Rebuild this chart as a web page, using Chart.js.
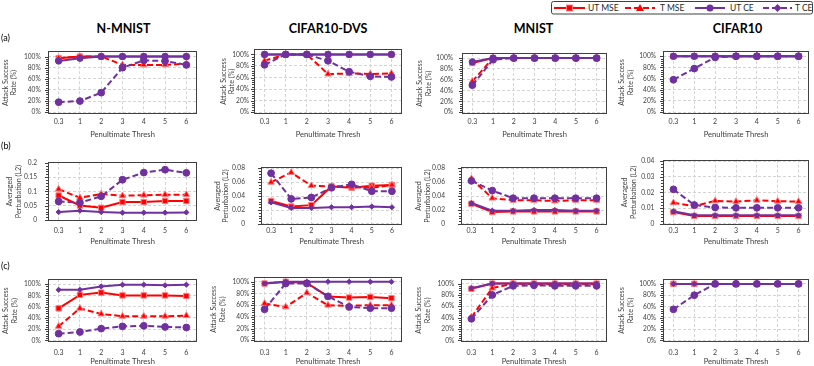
<!DOCTYPE html>
<html><head><meta charset="utf-8">
<script src="https://cdn.jsdelivr.net/npm/chart.js@4.4.1/dist/chart.umd.min.js"></script>
<style>
html,body{margin:0;padding:0;background:#fff;}
body{width:814px;height:366px;position:relative;overflow:hidden;font-family:Lato,'Open Sans',sans-serif;}
canvas{position:absolute;}
.title{position:absolute;font-weight:bold;font-size:12.5px;line-height:14px;color:#000;white-space:nowrap;transform:translateX(-50%);}
.rowlab{position:absolute;font-size:9px;line-height:10px;color:#000;}
#legend{position:absolute;left:551px;top:1px;}
</style></head><body>
<svg id="legend" width="263" height="14" xmlns="http://www.w3.org/2000/svg">
  <rect x="0.5" y="0.5" width="261" height="12.5" rx="2" ry="2" fill="#fff" stroke="#404040" stroke-width="1"/>
  <line x1="3" y1="7" x2="34" y2="7" stroke="#FF0000" stroke-width="2"/>
  <rect x="15.5" y="4" width="6" height="6" fill="#FF0000" stroke="#FF7C80" stroke-width="1"/>
  <text x="37" y="10" font-size="8.5" font-family="Lato" fill="#262626">UT MSE</text>
  <line x1="74" y1="7" x2="104" y2="7" stroke="#FF0000" stroke-width="2" stroke-dasharray="6,3"/>
  <polygon points="89,3 93,10 85,10" fill="#FF0000"/>
  <text x="109" y="10" font-size="8.5" font-family="Lato" fill="#262626">T MSE</text>
  <line x1="144" y1="7" x2="174" y2="7" stroke="#7030A0" stroke-width="2"/>
  <circle cx="159" cy="7" r="3.5" fill="#7030A0"/>
  <text x="179" y="10" font-size="8.5" font-family="Lato" fill="#262626">UT CE</text>
  <line x1="212" y1="7" x2="241" y2="7" stroke="#7030A0" stroke-width="2" stroke-dasharray="6,3"/>
  <polygon points="226.5,3 230.5,7 226.5,11 222.5,7" fill="#7030A0"/>
  <text x="244" y="10" font-size="8.5" font-family="Lato" fill="#262626">T CE</text>
</svg>
<script>
// ---------- data ----------
const categories = ['0.3','1','2','3','4','5','6'];
const datasetNames = ['N-MNIST','CIFAR10-DVS','MNIST','CIFAR10'];
const seriesNames = ['UT MSE','T MSE','UT CE','T CE'];
const rowLabels = ['(a)','(b)','(c)'];
const xAxisTitle = 'Penultimate Thresh';
const yTitleRate = ['Attack Success','Rate (%)'];
const yTitlePert = ['Averaged','Perturbation (L2)'];
const pctTicks = [0,20,40,60,80,100];
const pertTicksNMNIST = [0,0.05,0.1,0.15,0.2];
const pertTicksDVS = [0,0.02,0.04,0.06,0.08];
const pertTicksMNIST = [0,0.02,0.04,0.06,0.08];
const pertTicksCIFAR = [0,0.01,0.02,0.03,0.04];

// (a) attack success rate (%)
const a_NMNIST_UTMSE = [97,100,100,100,100,100,100];
const a_NMNIST_TMSE  = [97,100,100,85,85,85,87];
const a_NMNIST_UTCE  = [92,97,100,100,100,100,100];
const a_NMNIST_TCE   = [18,20,35,80,93,92,85];
const a_DVS_UTMSE = [100,100,100,100,100,100,100];
const a_DVS_TMSE  = [89,100,100,66,67,66,67];
const a_DVS_UTCE  = [100,100,100,100,100,100,100];
const a_DVS_TCE   = [82,100,100,89,70,62,61];
const a_MNIST_UTMSE = [91,100,100,100,100,100,100];
const a_MNIST_TMSE  = [57,100,100,100,100,100,100];
const a_MNIST_UTCE  = [93,100,100,100,100,100,100];
const a_MNIST_TCE   = [50,97,100,100,100,100,100];
const a_CIFAR_UTMSE = [100,100,100,100,100,100,100];
const a_CIFAR_TMSE  = [100,100,100,100,100,100,100];
const a_CIFAR_UTCE  = [100,100,100,100,100,100,100];
const a_CIFAR_TCE   = [58,78,98,100,100,100,100];

// (b) averaged perturbation (L2)
const b_NMNIST_UTMSE = [0.086,0.051,0.043,0.063,0.063,0.067,0.067];
const b_NMNIST_TMSE  = [0.108,0.078,0.091,0.085,0.087,0.089,0.089];
const b_NMNIST_UTCE  = [0.028,0.033,0.028,0.026,0.026,0.026,0.027];
const b_NMNIST_TCE   = [0.065,0.061,0.083,0.141,0.166,0.176,0.165];
const b_DVS_UTMSE = [0.033,0.025,0.027,0.054,0.052,0.055,0.056];
const b_DVS_TMSE  = [0.060,0.074,0.055,0.054,0.053,0.052,0.056];
const b_DVS_UTCE  = [0.031,0.023,0.023,0.024,0.024,0.025,0.024];
const b_DVS_TCE   = [0.073,0.036,0.038,0.052,0.057,0.047,0.047];
const b_MNIST_UTMSE = [0.029,0.017,0.018,0.018,0.018,0.018,0.018];
const b_MNIST_TMSE  = [0.065,0.037,0.034,0.034,0.033,0.034,0.034];
const b_MNIST_UTCE  = [0.030,0.019,0.019,0.020,0.020,0.019,0.019];
const b_MNIST_TCE   = [0.062,0.048,0.037,0.037,0.037,0.037,0.037];
const b_CIFAR_UTMSE = [0.0075,0.005,0.005,0.005,0.005,0.005,0.005];
const b_CIFAR_TMSE  = [0.0134,0.0112,0.0146,0.0142,0.015,0.0144,0.0142];
const b_CIFAR_UTCE  = [0.008,0.0054,0.0054,0.0054,0.0054,0.0054,0.0054];
const b_CIFAR_TCE   = [0.022,0.012,0.0104,0.0102,0.0102,0.0102,0.0102];

// (c) attack success rate (%)
const c_NMNIST_UTMSE = [57,81,85,80,80,80,79];
const c_NMNIST_TMSE  = [25,57,47,43,43,43,44];
const c_NMNIST_UTCE  = [90,90,96,99,99,98,99];
const c_NMNIST_TCE   = [12,15,21,25,26,24,23];
const c_DVS_UTMSE = [97,100,98,75,73,74,72];
const c_DVS_TMSE  = [63,57,81,60,59,60,60];
const c_DVS_UTCE  = [97,100,100,100,100,100,100];
const c_DVS_TCE   = [53,97,97,75,57,55,55];
const c_MNIST_UTMSE = [91,100,100,100,100,100,100];
const c_MNIST_TMSE  = [41,92,100,99,99,99,99];
const c_MNIST_UTCE  = [92,100,100,100,100,100,100];
const c_MNIST_TCE   = [38,80,96,97,96,96,96];
const c_CIFAR_UTMSE = [100,100,100,100,100,100,100];
const c_CIFAR_TMSE  = [100,100,100,100,100,100,100];
const c_CIFAR_UTCE  = [100,100,100,100,100,100,100];
const c_CIFAR_TCE   = [55,80,100,100,100,100,100];

const panelData = [
  [[a_NMNIST_UTMSE,a_NMNIST_TMSE,a_NMNIST_UTCE,a_NMNIST_TCE],[a_DVS_UTMSE,a_DVS_TMSE,a_DVS_UTCE,a_DVS_TCE],[a_MNIST_UTMSE,a_MNIST_TMSE,a_MNIST_UTCE,a_MNIST_TCE],[a_CIFAR_UTMSE,a_CIFAR_TMSE,a_CIFAR_UTCE,a_CIFAR_TCE]],
  [[b_NMNIST_UTMSE,b_NMNIST_TMSE,b_NMNIST_UTCE,b_NMNIST_TCE],[b_DVS_UTMSE,b_DVS_TMSE,b_DVS_UTCE,b_DVS_TCE],[b_MNIST_UTMSE,b_MNIST_TMSE,b_MNIST_UTCE,b_MNIST_TCE],[b_CIFAR_UTMSE,b_CIFAR_TMSE,b_CIFAR_UTCE,b_CIFAR_TCE]],
  [[c_NMNIST_UTMSE,c_NMNIST_TMSE,c_NMNIST_UTCE,c_NMNIST_TCE],[c_DVS_UTMSE,c_DVS_TMSE,c_DVS_UTCE,c_DVS_TCE],[c_MNIST_UTMSE,c_MNIST_TMSE,c_MNIST_UTCE,c_MNIST_TCE],[c_CIFAR_UTMSE,c_CIFAR_TMSE,c_CIFAR_UTCE,c_CIFAR_TCE]]
];
const pertTicks = [pertTicksNMNIST,pertTicksDVS,pertTicksMNIST,pertTicksCIFAR];

// ---------- layout ----------
const FONT = "Lato, 'Open Sans', sans-serif";
Chart.defaults.font.family = FONT;
const colCanvas = [[0,202],[203,407],[409,612],[613,814]];
const rowCanvas = [[40,139],[147,246],[268,366]];
const geom = [
  [{L:48,R:199,T:46,B:114,tp:1.6,kp:7.3},{L:254,R:402,T:46,B:114,tp:16.6,kp:5},{L:462,R:609,T:46,B:114,tp:6.9,kp:9},{L:663,R:811,T:46,B:114,tp:4.9,kp:7}],
  [{L:48,R:199,T:153,B:221,tp:5.9,kp:11},{L:261,R:403,T:155,B:225,tp:10.5,kp:16},{L:461,R:609,T:155,B:225,tp:5.8,kp:16},{L:663,R:811,T:155,B:225,tp:7.9,kp:8.7}],
  [{L:48,R:199,T:274,B:342,tp:1.9,kp:7.3},{L:254,R:402,T:274,B:342,tp:6.9,kp:4.7},{L:461,R:609,T:274,B:342,tp:5.9,kp:6.7},{L:663,R:811,T:274,B:342,tp:4.9,kp:7}]
];
const xTickPad = [[3.5,3.5,3.5,3.5],[5.5,1.5,1.5,1.5],[6.5,6.5,6.5,6.5]];
const yRange = [
  [[-3.3,109.5],[-3.3,109.5],[-3.3,109.5],[-3.3,109.5]],
  [[-0.003,0.203],[-0.0016,0.082],[-0.0016,0.082],[-0.0008,0.041]],
  [[-2.8,108.7],[-2.8,108.7],[-2.8,108.7],[-2.8,108.7]]
];

const framePlugin = {
  id:'frame',
  beforeDatasetsDraw(chart){
    const a = chart.chartArea, ctx = chart.ctx;
    const ys = chart.scales.y;
    ctx.save();
    ctx.strokeStyle = '#404040'; ctx.lineWidth = 1;
    const l = Math.round(a.left)+0.5;
    ctx.strokeRect(l, Math.round(a.top)+0.5, Math.round(a.right-a.left)-1, Math.round(a.bottom-a.top)-1);
    // minor ticks (major/5) on the left axis
    const t = ys.ticks.map(o=>o.value);
    ctx.beginPath();
    for(let i=0;i<t.length-1;i++){
      const step = (t[i+1]-t[i])/5;
      for(let k=1;k<5;k++){
        const y = Math.round(ys.getPixelForValue(t[i]+k*step))+0.5;
        ctx.moveTo(l-2.5,y); ctx.lineTo(l,y);
      }
    }
    for(const v of t){
      const y = Math.round(ys.getPixelForValue(v))+0.5;
      ctx.moveTo(l-3.5,y); ctx.lineTo(l,y);
    }
    ctx.stroke();
    ctx.restore();
  }
};

function mkDatasets(vals,row){
  return vals.map((d,i)=>{
    const isRed = i<2, dashed = (i%2===1);
    const color = isRed ? '#FF0000' : '#7030A0';
    let style, radius;
    if(i===0){style='rect';radius=3.8;}
    else if(i===1){style='triangle';radius=3.8;}
    else if(i===2){style=row===0?'circle':'rectRot';radius=row===0?3.2:2.6;}
    else {style='circle';radius=3.4;}
    return {label:seriesNames[i],data:d,borderColor:color,backgroundColor:color,borderWidth:2,
      borderDash:dashed?[6,3]:[],pointStyle:style,pointRadius:radius,pointBorderWidth:1,
      pointBorderColor:isRed?'#FF7C80':color,pointBackgroundColor:color,order:4-i,clip:false,tension:0};
  });
}

for(let r=0;r<3;r++){
  for(let c=0;c<4;c++){
    const g = geom[r][c];
    const [cl,cr] = colCanvas[c];
    const [ct,cb] = rowCanvas[r];
    const cv = document.createElement('canvas');
    cv.width = cr-cl; cv.height = cb-ct;
    cv.style.left = cl+'px'; cv.style.top = ct+'px';
    cv.style.width = (cr-cl)+'px'; cv.style.height = (cb-ct)+'px';
    document.body.appendChild(cv);
    const ticksArr = r===1 ? pertTicks[c] : pctTicks;
    const fmt = r===1 ? (v=>String(v)) : (v=>v+'%');
    new Chart(cv,{
      type:'line',
      data:{labels:categories,datasets:mkDatasets(panelData[r][c],r)},
      options:{
        responsive:false,animation:false,devicePixelRatio:1,
        layout:{padding:{left:0,top:g.T-ct,right:cr-g.R,bottom:0}},
        plugins:{legend:{display:false},tooltip:{enabled:false}},
        scales:{
          x:{type:'category',offset:true,
            grid:{offset:false,drawTicks:false,color:'#d4d4d4',lineWidth:1},
            border:{display:false,dash:[3,2]},
            ticks:{padding:xTickPad[r][c],color:'#404040',font:{size:7},maxRotation:0,autoSkip:false},
            title:{display:true,text:xAxisTitle,color:'#404040',font:{size:7.6,lineHeight:1.2},padding:{top:0,bottom:0}},
            afterFit:(s)=>{s.height = cb-g.B;}
          },
          y:{min:yRange[r][c][0],max:yRange[r][c][1],
            grid:{drawTicks:false,color:'#d4d4d4',lineWidth:1},
            border:{display:false,dash:[3,2]},
            afterBuildTicks:(s)=>{s.ticks = ticksArr.map(v=>({value:v}));},
            ticks:{padding:g.kp,color:'#404040',font:{size:6.6},callback:fmt},
            title:{display:true,text:r===1?yTitlePert:yTitleRate,color:'#404040',font:{size:7.2,lineHeight:1.15},padding:{top:g.tp,bottom:0}},
            afterFit:(s)=>{s.width = g.L-cl;}
          }
        }
      },
      plugins:[framePlugin]
    });
  }
}

// titles and row labels
const titleX = [123.5,328,533.5,737.5];
datasetNames.forEach((n,i)=>{
  const d = document.createElement('div');
  d.className='title'; d.textContent=n;
  d.style.left = titleX[i]+'px'; d.style.top='22px';
  document.body.appendChild(d);
});
const rowLabY = [32.5,141,261];
rowLabels.forEach((t,i)=>{
  const d = document.createElement('div');
  d.className='rowlab'; d.textContent=t;
  d.style.left='1px'; d.style.top=rowLabY[i]+'px';
  document.body.appendChild(d);
});
</script>
</body></html>
